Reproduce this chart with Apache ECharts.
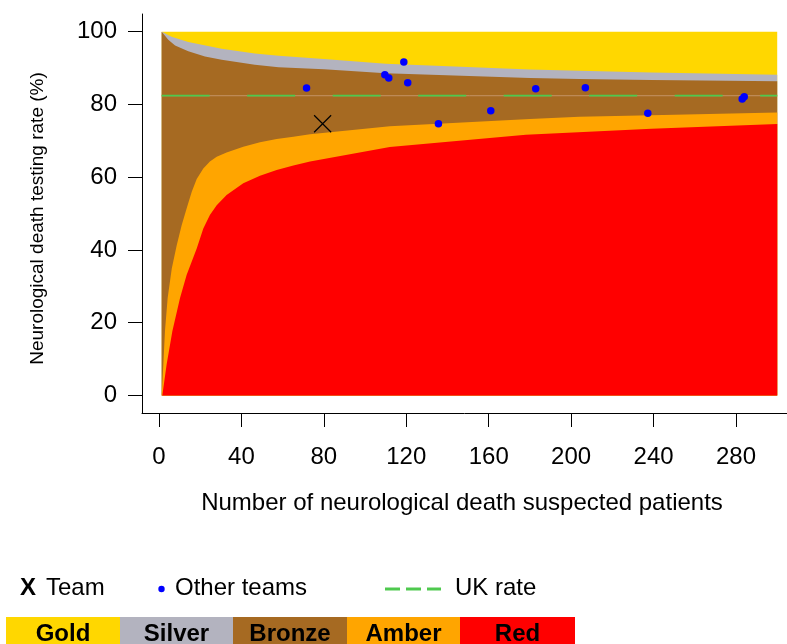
<!DOCTYPE html>
<html>
<head>
<meta charset="utf-8">
<script src="https://cdn.jsdelivr.net/npm/echarts@6/dist/echarts.min.js"></script>
<style>html,body{margin:0;padding:0;background:#fff}#c{width:787px;height:644px}</style>
</head>
<body>
<div id="c"></div>
<script>
// ---- data ----
var xTicks = [0, 40, 80, 120, 160, 200, 240, 280];
var yTicks = [0, 20, 40, 60, 80, 100];
var goldTop = [[1.3, 100], [300, 100]];
var goldSilver = [[1.3,100],[6.1,98.6],[14.2,97.2],[30.4,95.3],[46.5,94.0],[58,93.4],[80,92.5],[110,91.2],[180,89.6],[204,89.3],[239,88.8],[300,88.2]];
var silverBronze = [[1.3,100],[4.5,97.8],[7.8,96.2],[14.2,94.6],[22.3,93.2],[30.4,92.3],[46.5,90.9],[58,90.2],[80,89.7],[110,88.6],[180,87.3],[204,87.0],[239,86.7],[300,86.4]];
var bronzeAmber = [[1.3,0],[2.1,8.5],[2.9,17.7],[4.2,26.8],[6.2,34.9],[8.6,41.3],[11,46.8],[13.4,51.4],[15.9,56.0],[18.3,59.5],[21.5,62.4],[24.7,64.3],[28,65.6],[32.8,66.8],[40.9,68.4],[49,69.6],[57.1,70.5],[65.2,71.1],[73.3,71.8],[112,74.0],[180,76.0],[204,76.6],[239,77.0],[300,77.8]];
var amberRed = [[1.6,0],[3.7,8.5],[6.5,17.7],[10.2,26.8],[13.4,33.1],[18.3,40.4],[21.5,45.9],[24.7,49.6],[28,52.3],[32.8,55.1],[40.9,58.3],[49,60.4],[57.1,62.0],[65.2,63.2],[73.3,64.3],[112,68.3],[178,71.7],[239,73.3],[300,74.6]];
var otherTeams = [[71.6,84.5],[109.6,88.2],[111.5,87.3],[118.8,91.7],[120.7,86.0],[135.6,74.7],[161,78.3],[182.8,84.3],[206.9,84.6],[237.2,77.6],[283,81.5],[284,82.1]];
var team = [[79.4,74.7]];
var ukRate = 82.4;
var ukRange = [1.3, 300];
var bandNames = ['Gold', 'Silver', 'Bronze', 'Amber', 'Red'];
var bandColors = ['#FFD700', '#B3B3BF', '#A66A22', '#FFA500', '#FF0000'];

var FONT = 'Liberation Sans, Arial, Helvetica, sans-serif';
var chart = echarts.init(document.getElementById('c'), null, {renderer: 'canvas'});

function band(data, color) {
  return {type: 'line', data: data, showSymbol: false, symbol: 'none', silent: true, z: 1,
    lineStyle: {width: 0, color: color}, areaStyle: {color: color, opacity: 1, origin: 'auto'}};
}
var ukLine = [[ukRange[0], ukRate], [ukRange[1], ukRate]];

var graphics = [
  {type: 'text', x: 38, y: 218.5, rotation: Math.PI / 2,
   style: {text: 'Neurological death testing rate (%)', font: '19px ' + FONT, fill: '#000', textAlign: 'center', textVerticalAlign: 'middle'}},
  {type: 'text', x: 462, y: 503,
   style: {text: 'Number of neurological death suspected patients', font: '24px ' + FONT, fill: '#000', textAlign: 'center', textVerticalAlign: 'middle'}},
  {type: 'text', x: 20, y: 588, style: {text: 'X', font: 'bold 24px ' + FONT, fill: '#000', textVerticalAlign: 'middle'}},
  {type: 'text', x: 46, y: 588, style: {text: 'Team', font: '24px ' + FONT, fill: '#000', textVerticalAlign: 'middle'}},
  {type: 'circle', shape: {cx: 161.5, cy: 589, r: 3.2}, style: {fill: '#0000FF'}},
  {type: 'text', x: 175, y: 588, style: {text: 'Other teams', font: '24px ' + FONT, fill: '#000', textVerticalAlign: 'middle'}},
  {type: 'line', shape: {x1: 385, y1: 589, x2: 400, y2: 589}, style: {stroke: '#4EC94E', lineWidth: 3}},
  {type: 'line', shape: {x1: 406, y1: 589, x2: 421, y2: 589}, style: {stroke: '#4EC94E', lineWidth: 3}},
  {type: 'line', shape: {x1: 427, y1: 589, x2: 441, y2: 589}, style: {stroke: '#4EC94E', lineWidth: 3}},
  {type: 'text', x: 455, y: 588, style: {text: 'UK rate', font: '24px ' + FONT, fill: '#000', textVerticalAlign: 'middle'}}
];
var boxX = [6, 120, 233, 347, 460, 575];
for (var i = 0; i < bandNames.length; i++) {
  graphics.push({type: 'rect', shape: {x: boxX[i], y: 617, width: boxX[i + 1] - boxX[i], height: 35}, style: {fill: bandColors[i]}});
  graphics.push({type: 'text', x: (boxX[i] + boxX[i + 1]) / 2, y: 634,
    style: {text: bandNames[i], font: 'bold 24px ' + FONT, fill: '#000', textAlign: 'center', textVerticalAlign: 'middle'}});
}

chart.setOption({
  animation: false,
  backgroundColor: '#fff',
  grid: {left: 142, top: 14, right: 0, bottom: 231, containLabel: false},
  xAxis: {type: 'value', min: -8.25, max: 304.75,
    axisLine: {show: true, onZero: false, lineStyle: {color: '#000', width: 1}},
    axisTick: {show: true, length: 14, customValues: xTicks, lineStyle: {color: '#000', width: 1}},
    axisLabel: {customValues: xTicks, margin: 32, color: '#000', fontSize: 24, fontFamily: FONT},
    splitLine: {show: false}},
  yAxis: {type: 'value', min: -4.84, max: 104.87,
    axisLine: {show: true, onZero: false, lineStyle: {color: '#000', width: 1}},
    axisTick: {show: true, length: 14, customValues: yTicks, lineStyle: {color: '#000', width: 1}},
    axisLabel: {customValues: yTicks, margin: 25, color: '#000', fontSize: 24, fontFamily: FONT},
    splitLine: {show: false}},
  series: [
    band(goldTop, bandColors[0]),
    band(goldSilver, bandColors[1]),
    band(silverBronze, bandColors[2]),
    band(bronzeAmber, bandColors[3]),
    band(amberRed, bandColors[4]),
    {type: 'line', data: ukLine, showSymbol: false, symbol: 'none', silent: true, z: 3,
     lineStyle: {color: '#C49466', width: 1}},
    {type: 'line', data: ukLine, showSymbol: false, symbol: 'none', silent: true, z: 4,
     lineStyle: {color: '#4EC94E', width: 1.7, type: [48, 37.5]}},
    {type: 'scatter', data: otherTeams, symbol: 'circle', symbolSize: 7.5, z: 10, clip: false,
     itemStyle: {color: '#0000FF', opacity: 1}},
    {type: 'scatter', data: team, symbol: 'path://M0,0L10,10M10,0L0,10', symbolSize: 17, z: 11, clip: false,
     itemStyle: {color: 'none', borderColor: '#000', borderWidth: 1.2, opacity: 1}}
  ],
  graphic: graphics
});
</script>
</body>
</html>
